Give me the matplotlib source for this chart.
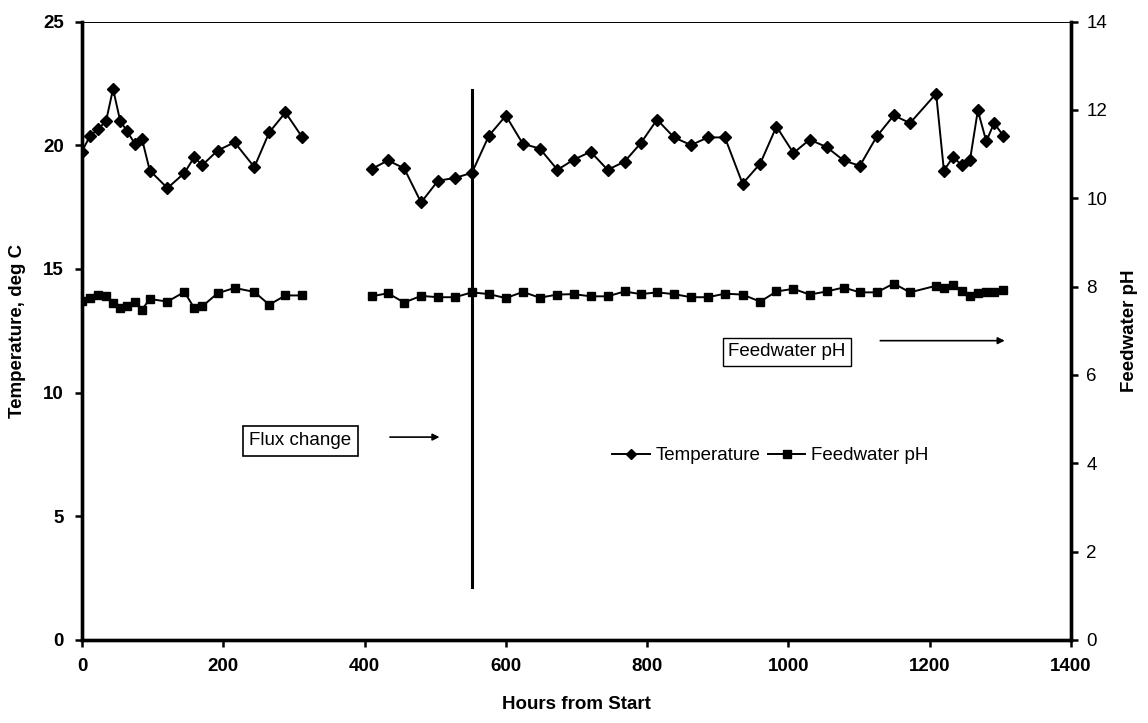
import numpy as np
import matplotlib
matplotlib.use("Agg")
import matplotlib.pyplot as plt
from matplotlib.lines import Line2D

plt.rcParams['font.family'] = ['Liberation Sans', 'DejaVu Sans']

# first run (before the shutdown)
hours_run1 = [0, 11, 23, 34, 44, 54, 64, 75, 85, 96, 121, 145, 159, 170, 192,
              216, 244, 265, 288, 312]
temp_run1 = [19.75, 20.36, 20.67, 20.97, 22.28, 21.0, 20.56, 20.06, 20.25, 18.98,
             18.27, 18.88, 19.53, 19.19, 19.79, 20.12, 19.12, 20.52, 21.33, 20.32]
ph_run1 = [7.68, 7.74, 7.82, 7.78, 7.63, 7.51, 7.55, 7.66, 7.48, 7.72,
           7.66, 7.88, 7.51, 7.55, 7.85, 7.97, 7.88, 7.59, 7.80, 7.80]

# second run
hours_run2 = [410, 433, 456, 480, 504, 528, 552, 576, 600, 624, 648, 673, 696, 720,
              744, 768, 791, 814, 838, 862, 886, 910, 935, 960, 983, 1007, 1030,
              1054, 1078, 1101, 1125, 1149, 1172, 1209, 1220, 1233, 1245, 1257,
              1268, 1280, 1291, 1304]
temp_run2 = [19.04, 19.39, 19.07, 17.69, 18.57, 18.68, 18.89, 20.39, 21.20, 20.06,
             19.87, 19.01, 19.42, 19.74, 19.01, 19.34, 20.09, 21.04, 20.32, 20.01,
             20.32, 20.32, 18.45, 19.26, 20.76, 19.69, 20.23, 19.93, 19.39, 19.17,
             20.36, 21.21, 20.90, 22.09, 18.98, 19.53, 19.20, 19.42, 21.41, 20.16,
             20.90, 20.39]
ph_run2 = [7.78, 7.85, 7.64, 7.79, 7.76, 7.76, 7.87, 7.83, 7.74, 7.88, 7.75, 7.82,
           7.83, 7.78, 7.78, 7.89, 7.83, 7.87, 7.83, 7.76, 7.76, 7.84, 7.82, 7.66,
           7.89, 7.95, 7.82, 7.89, 7.98, 7.87, 7.87, 8.07, 7.87, 8.02, 7.97, 8.04,
           7.89, 7.78, 7.85, 7.88, 7.88, 7.93]

flux_change_hour = 552
flux_line_temp = [2.15, 22.25]

# join the two runs with a gap
hours = hours_run1 + [np.nan] + hours_run2
temp = temp_run1 + [np.nan] + temp_run2
ph = ph_run1 + [np.nan] + ph_run2

fig = plt.figure(figsize=(11.48, 7.23), dpi=100)
ax = fig.add_axes([0.0714, 0.115, 0.8616, 0.855])
ax2 = ax.twinx()

ax.plot(hours, temp, color='black', lw=1.4, marker='D', ms=6, label='Temperature')
ax2.plot(hours, ph, color='black', lw=1.4, marker='s', ms=5.5, label='Feedwater pH')

# flux change marker line
ax.plot([flux_change_hour, flux_change_hour], flux_line_temp, color='black', lw=2.2)

ax.set_xlim(0, 1400)
ax.set_ylim(0, 25)
ax2.set_ylim(0, 14)
ax.set_xticks(range(0, 1401, 200))
ax.set_yticks(range(0, 26, 5))
ax2.set_yticks(range(0, 15, 2))

for lab in ax.get_xticklabels() + ax.get_yticklabels():
    lab.set_fontweight('bold')
ax.tick_params(axis='both', labelsize=13.5, direction='out', length=5, width=1.8, pad=8)
ax2.tick_params(axis='y', labelsize=13.5, direction='out', length=5, width=1.8, pad=6)

for a in (ax, ax2):
    a.spines['left'].set_linewidth(2.4)
    a.spines['bottom'].set_linewidth(2.4)
    a.spines['right'].set_linewidth(2.4)
    a.spines['top'].set_linewidth(0.6)

ax.set_xlabel('Hours from Start', fontsize=13.5, fontweight='bold', labelpad=15)
ax.set_ylabel('Temperature, deg C', fontsize=13.5, fontweight='bold', labelpad=12)
ax2.set_ylabel('Feedwater pH', fontsize=13.5, fontweight='bold', labelpad=10)

# annotations
ax.text(309, 8.05, 'Flux change', fontsize=13.5, ha='center', va='center',
        bbox=dict(boxstyle='square,pad=0.35', fc='white', ec='black', lw=1.2))
ax.annotate('', xy=(510, 8.2), xytext=(432, 8.2),
            arrowprops=dict(arrowstyle='-|>', color='black', lw=1.2, mutation_scale=10))
ax.text(998, 11.65, 'Feedwater pH', fontsize=13.5, ha='center', va='center',
        bbox=dict(boxstyle='square,pad=0.3', fc='white', ec='black', lw=1.0))
ax.annotate('', xy=(1310, 12.1), xytext=(1126, 12.1),
            arrowprops=dict(arrowstyle='-|>', color='black', lw=1.2, mutation_scale=10))

handles = [Line2D([], [], color='black', lw=1.4, marker='D', ms=5.5),
           Line2D([], [], color='black', lw=1.4, marker='s', ms=5.5)]
ax.legend(handles, ['Temperature', 'Feedwater pH'], loc='center',
          bbox_to_anchor=(0.696, 0.298), ncol=2, frameon=False, fontsize=13.5,
          handlelength=2.0, handletextpad=0.3, columnspacing=0.4)

fig.savefig('out.png', dpi=100, facecolor='white')
